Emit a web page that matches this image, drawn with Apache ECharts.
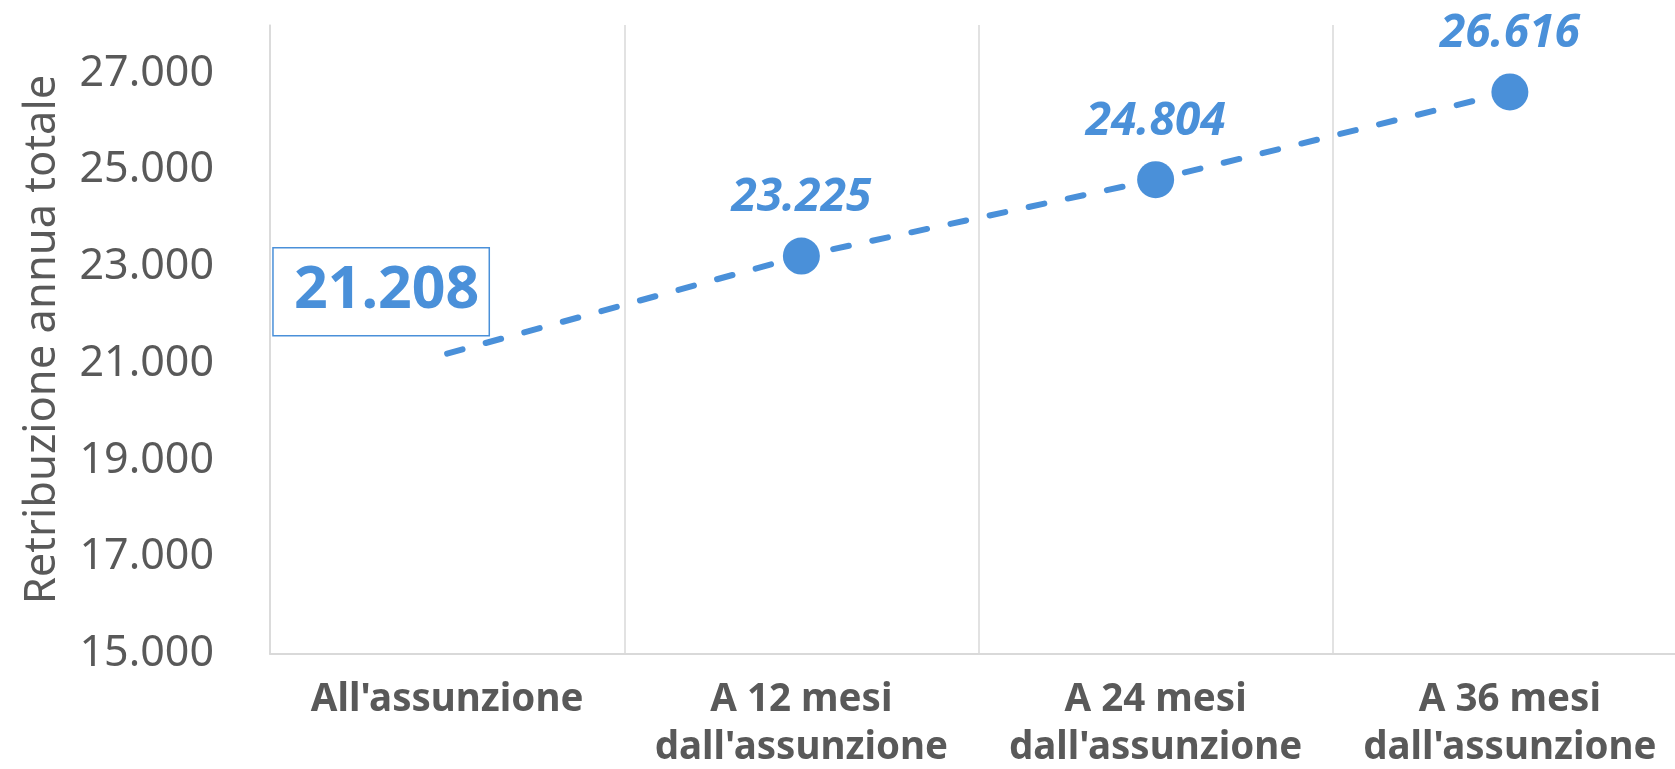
<!DOCTYPE html>
<html>
<head>
<meta charset="utf-8">
<script src="https://cdn.jsdelivr.net/npm/echarts@6/dist/echarts.min.js"></script>
<style>
html,body{margin:0;padding:0;background:#fff;}
#c{width:1675px;height:769px;}
</style>
</head>
<body>
<div id="c"></div>
<script>
const categories = ["All'assunzione", "A 12 mesi\ndall'assunzione", "A 24 mesi\ndall'assunzione", "A 36 mesi\ndall'assunzione"];
const values = [21208, 23225, 24804, 26616];
const yTicks = [15000, 17000, 19000, 21000, 23000, 25000, 27000];
const yAxisName = 'Retribuzione annua totale';

const BLUE = '#4a90d9';
const GRAY = '#595959';
const GRID = '#d9d9d9';
const FONT = '"Noto Sans", sans-serif';

function fmt(v) {
  return String(Math.round(v)).replace(/\B(?=(\d{3})+(?!\d))/g, '.');
}

const seriesData = values.map((v, i) => {
  if (i === 0) {
    return {
      value: v,
      symbolSize: 0.1,
      label: {
        show: true,
        position: 'inside',
        offset: [-66, -62],
        fontSize: 59,
        fontWeight: 'bold',
        fontStyle: 'normal',
        color: BLUE,
        borderColor: BLUE,
        borderWidth: 1.5,
        padding: [13, 10, 11, 21],
        lineHeight: 64
      }
    };
  }
  return { value: v };
});

const chart = echarts.init(document.getElementById('c'), null, { renderer: 'canvas' });
chart.setOption({
  animation: false,
  backgroundColor: '#fff',
  textStyle: { fontFamily: FONT },
  grid: { left: 270, top: 25, width: 1417, height: 629, containLabel: false, outerBoundsMode: 'none' },
  xAxis: {
    type: 'category',
    data: categories,
    boundaryGap: true,
    axisLine: { show: true, lineStyle: { color: GRID, width: 2 } },
    axisTick: { show: false },
    splitLine: { show: true, lineStyle: { color: GRID, width: 1.5 } },
    axisLabel: {
      interval: 0,
      color: GRAY,
      fontFamily: FONT,
      fontWeight: 'bold',
      fontSize: 38.5,
      lineHeight: 48,
      margin: 22
    }
  },
  yAxis: {
    type: 'value',
    min: 15000,
    max: 28000,
    interval: 1000,
    name: yAxisName,
    nameLocation: 'middle',
    nameRotate: 90,
    nameGap: 205,
    nameTextStyle: { color: GRAY, fontSize: 43.5, fontFamily: FONT },
    axisLine: { show: true, lineStyle: { color: GRID, width: 1.5 } },
    axisTick: { show: false },
    splitLine: { show: false },
    axisLabel: {
      color: GRAY,
      fontSize: 43,
      fontFamily: FONT,
      margin: 56,
      formatter: function (v) { return yTicks.indexOf(v) >= 0 ? fmt(v) : ''; }
    }
  },
  series: [{
    type: 'line',
    data: seriesData,
    symbol: 'circle',
    symbolSize: 37,
    itemStyle: { color: BLUE },
    lineStyle: { color: BLUE, width: 6, type: [16, 24], cap: 'round' },
    label: {
      show: true,
      position: 'inside',
      offset: [0, -58],
      formatter: function (p) { return fmt(p.value); },
      color: BLUE,
      fontSize: 46,
      fontWeight: 'bold',
      fontStyle: 'italic',
      fontFamily: FONT
    }
  }]
});
</script>
</body>
</html>
